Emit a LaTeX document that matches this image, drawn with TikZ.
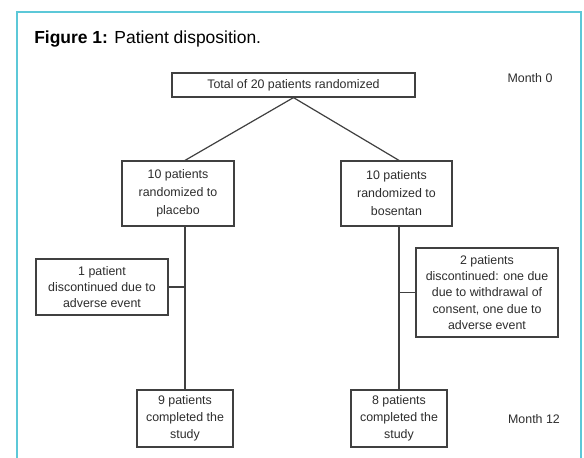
\documentclass[tikz,border=0pt]{standalone}
\usepackage{fontspec}
\setmainfont{Liberation Sans}
\definecolor{framecyan}{RGB}{92,200,216}
\definecolor{boxline}{RGB}{64,64,64}
\definecolor{boxtext}{RGB}{45,45,45}
\begin{document}
\begin{tikzpicture}[x=0.75pt,y=-0.75pt,
  box/.style={draw=boxline,line width=0.9pt,fill=white,inner sep=0pt,align=center,
    text=boxtext,font=\fontsize{9.3}{12.75}\selectfont},
  lab/.style={inner sep=0pt,text=boxtext,font=\fontsize{9.3}{12.75}\selectfont},
  link/.style={draw=boxline,line width=0.9pt}]
\useasboundingbox (0,0) rectangle (584,457);
\fill[white] (0,0) rectangle (584,457);
\draw[framecyan,line width=1.6pt] (17,470) -- (17,12) -- (581,12) -- (581,470);
\node[anchor=base west,inner sep=0pt,font=\fontsize{13.1}{16}\selectfont] (title) at (34,43)
  {\textbf{Figure 1:} Patient disposition.};
\node[box,minimum width=182.25pt,minimum height=18pt] (top) at (293.5,85)
  {Total of 20 patients randomized};
\node[box,minimum width=84pt,minimum height=48.75pt,font=\fontsize{9.3}{13.5}\selectfont] (midL) at (178,193.5)
  {10 patients\\randomized to\\placebo};
\node[box,minimum width=83.25pt,minimum height=48.75pt,font=\fontsize{9.3}{13.5}\selectfont] (midR) at (396.5,193.5)
  {10 patients\\randomized to\\bosentan};
\node[box,minimum width=99pt,minimum height=42pt,font=\fontsize{9.3}{12}\selectfont] (discL) at (102,287)
  {1 patient\\discontinued due to\\adverse event};
\node[box,minimum width=106.5pt,minimum height=66.75pt,font=\fontsize{9.3}{12.1}\selectfont] (discR) at (487,292.5)
  {2 patients\\discontinued: one due\\due to withdrawal of\\consent, one due to\\adverse event};
\node[box,minimum width=72pt,minimum height=42.75pt] (botL) at (185,418.5)
  {9 patients\\completed the\\study};
\node[box,minimum width=72pt,minimum height=42.75pt] (botR) at (399,418.5)
  {8 patients\\completed the\\study};
\node[lab] (m0) at (530,78) {Month 0};
\node[lab] (m12) at (534,419) {Month 12};
\draw[link] (top.south) -- (midL.north -| botL.north);
\draw[link] (top.south) -- (midR.north -| botR.north);
\draw[link] (midL.south -| botL.north) -- (botL.north);
\draw[link] (midR.south -| botR.north) -- (botR.north);
\draw[link] (discL.east) -- (discL.east -| botL.north);
\draw[link] (discR.west) -- (discR.west -| botR.north);
\end{tikzpicture}
\end{document}
